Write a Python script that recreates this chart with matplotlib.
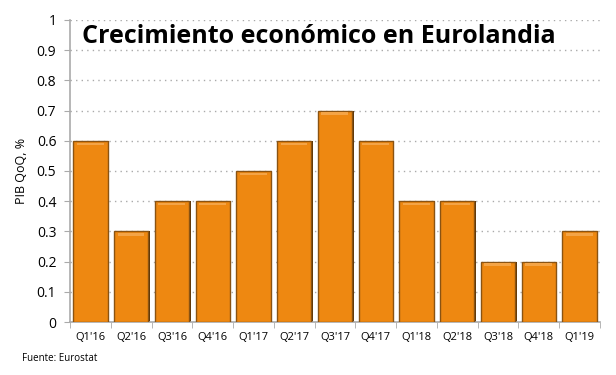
import numpy as np
import matplotlib.pyplot as plt

quarters = ["Q1'16", "Q2'16", "Q3'16", "Q4'16", "Q1'17", "Q2'17", "Q3'17",
            "Q4'17", "Q1'18", "Q2'18", "Q3'18", "Q4'18", "Q1'19"]
gdp_qoq = [0.6, 0.3, 0.4, 0.4, 0.5, 0.6, 0.7, 0.6, 0.4, 0.4, 0.2, 0.2, 0.3]
y_ticks = [0, 0.1, 0.2, 0.3, 0.4, 0.5, 0.6, 0.7, 0.8, 0.9, 1]
y_labels = ["0", "0.1", "0.2", "0.3", "0.4", "0.5", "0.6", "0.7", "0.8", "0.9", "1"]

plt.rcParams['font.family'] = ['Open Sans', 'DejaVu Sans']

fig = plt.figure(figsize=(6.16, 3.75), dpi=100)
ax = fig.add_axes([0.114, 0.141, 0.86, 0.806])

x = np.arange(len(quarters))
w = 0.84
# shadow on the right gives the bevel look
ax.bar(x + 0.035, gdp_qoq, width=w, color='#5a3408', zorder=2)
ax.bar(x, gdp_qoq, width=w, color='#ee8811', edgecolor='#8a5312', linewidth=1.0, zorder=3)
hl = [v - 0.014 for v in gdp_qoq]
ax.bar(x - 0.01, [0.008] * len(x), bottom=hl, width=w * 0.78, color='#f4a446', zorder=4)

ax.set_xlim(-0.5, len(quarters) - 0.5)
ax.set_ylim(0, 1)
ax.set_yticks(y_ticks)
ax.set_yticklabels(y_labels, fontsize=10)
ax.set_xticks(x)
ax.set_xticklabels(quarters, fontsize=8)
ax.tick_params(axis='x', length=0, pad=7)
ax.set_xticks(np.arange(-0.5, len(quarters)), minor=True)
ax.tick_params(axis='x', which='minor', length=4, color='#aaaaaa')
ax.tick_params(axis='y', length=4, color='#aaaaaa', pad=6)

ax.grid(axis='y', linestyle=(0, (1, 3)), color='#aaaaaa', linewidth=1, zorder=0)
ax.set_axisbelow(True)
for s in ['top', 'right']:
    ax.spines[s].set_visible(False)
ax.spines['left'].set_color('#aaaaaa')
ax.spines['bottom'].set_color('#aaaaaa')
ax.spines['left'].set_linewidth(1.2)
ax.spines['bottom'].set_linewidth(1.2)

ax.set_ylabel('PIB QoQ, %', fontsize=9, labelpad=6)
ax.text(0.022, 0.985, 'Crecimiento económico en Eurolandia', transform=ax.transAxes,
        fontsize=18, fontweight='bold', va='top', ha='left')
fig.text(0.036, 0.045, 'Fuente: Eurostat', fontsize=7, va='center')

fig.savefig('out.png', dpi=100)
